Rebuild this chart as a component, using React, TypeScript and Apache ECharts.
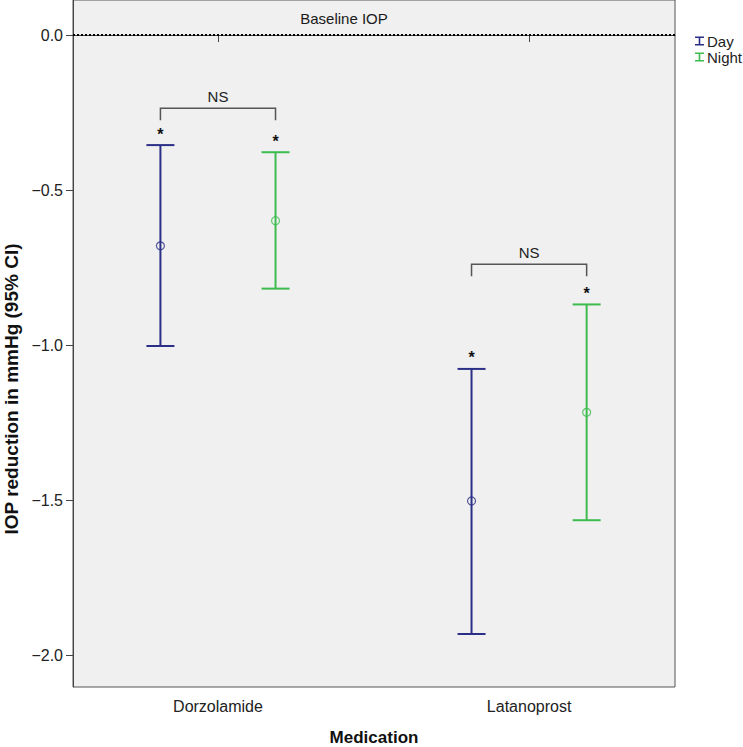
import React, { useEffect, useRef } from "react";
import * as echarts from "echarts";

const categories = ["Dorzolamide", "Latanoprost"];
const seriesNames = ["Day", "Night"];
const dayMean = [-0.68, -1.503];
const dayLower = [-1.003, -1.932];
const dayUpper = [-0.355, -1.077];
const nightMean = [-0.599, -1.217];
const nightLower = [-0.818, -1.565];
const nightUpper = [-0.378, -0.869];
const bracketLevel = [-0.236, -0.739];
const bracketText = ["NS", "NS"];
const starText = ["*", "*"];
const yTicks = [0, -0.5, -1, -1.5, -2];
const baselineValue = 0;
const baselineLabel = "Baseline IOP";
const baselineLabelX = 1.405;
const xTitle = "Medication";
const yTitle = "IOP reduction in mmHg (95% CI)";

const DAY_COLOR = "#2b2f86";
const NIGHT_COLOR = "#3dbb4f";
const FONT = "Liberation Sans, Arial, sans-serif";
const OFFSET = 0.185;

export default function App() {
  const ref = useRef<HTMLDivElement>(null);
  useEffect(() => {
    if (!ref.current) return;
    const chart = echarts.init(ref.current, undefined, { renderer: "svg" });

    const xPos = (i: number, g: number) => i + 1 + (g === 0 ? -OFFSET : OFFSET);

    const errData = (mean: number[], lo: number[], hi: number[], g: number) =>
      categories.map((_, i) => [xPos(i, g), lo[i], hi[i], mean[i]]);

    const errSeries = (name: string, color: string, data: number[][]) => ({
      name,
      type: "custom",
      itemStyle: { color },
      data,
      z: 3,
      renderItem: (_p: any, api: any) => {
        const x = api.value(0);
        const lo = api.value(1);
        const hi = api.value(2);
        const top = api.coord([x, hi]);
        const bot = api.coord([x, lo]);
        const hw = 14;
        const st = { stroke: color, lineWidth: 2 };
        return {
          type: "group",
          children: [
            { type: "line", shape: { x1: top[0], y1: top[1], x2: bot[0], y2: bot[1] }, style: st },
            { type: "line", shape: { x1: top[0] - hw, y1: top[1], x2: top[0] + hw, y2: top[1] }, style: st },
            { type: "line", shape: { x1: bot[0] - hw, y1: bot[1], x2: bot[0] + hw, y2: bot[1] }, style: st },
            {
              type: "text",
              x: top[0],
              y: top[1] - 3,
              style: {
                text: starText[_p.dataIndex],
                fill: "#111",
                font: `bold 16px ${FONT}`,
                align: "center",
                verticalAlign: "bottom",
              },
            },
          ],
        };
      },
    });

    const meanSeries = (name: string, color: string, mean: number[], g: number) => ({
      name,
      type: "scatter",
      symbol: "circle",
      symbolSize: 8,
      itemStyle: { color: "transparent", borderColor: color, borderWidth: 1.2 },
      data: categories.map((_, i) => [xPos(i, g), mean[i]]),
      z: 4,
    });

    const bracketData = categories.map((_, i) => [xPos(i, 0), xPos(i, 1), bracketLevel[i]]);

    chart.setOption({
      animation: false,
      backgroundColor: "#ffffff",
      textStyle: { fontFamily: FONT },
      grid: {
        left: 73,
        right: 68,
        top: 0,
        bottom: 60,
        outerBoundsMode: "none",
        containLabel: false,
        show: true,
        backgroundColor: "#f0f0f0",
        borderColor: "#555",
        borderWidth: 1,
      },
      legend: {
        left: 690,
        top: 28,
        orient: "vertical",
        itemWidth: 9,
        itemHeight: 10,
        itemGap: 0,
        icon: "path://M0,0H10V1.8H5.9V8.2H10V10H0V8.2H4.1V1.8H0Z",
        textStyle: {
          fontSize: 15,
          lineHeight: 16,
          color: "#222",
          fontFamily: FONT,
          padding: [0, 0, 0, -2],
        },
        data: seriesNames.map((n, i) => ({
          name: n,
          itemStyle: { color: i === 0 ? DAY_COLOR : NIGHT_COLOR },
        })),
      },
      graphic: [
        {
          type: "text",
          x: 11,
          y: 389,
          rotation: Math.PI / 2,
          style: {
            text: yTitle,
            font: `bold 19px ${FONT}`,
            fill: "#111",
            align: "center",
            verticalAlign: "middle",
          },
        },
      ],
      xAxis: {
        type: "value",
        min: 0.534,
        max: 2.469,
        name: xTitle,
        nameLocation: "middle",
        nameGap: 42,
        nameTextStyle: { fontSize: 17, fontWeight: "bold", color: "#111", fontFamily: FONT },
        axisLine: { show: true, lineStyle: { color: "#444", width: 1 } },
        axisTick: { show: true, length: 7, customValues: [1, 2], lineStyle: { color: "#444" } },
        axisLabel: {
          customValues: [1, 2],
          margin: 11,
          fontSize: 16,
          color: "#222",
          fontFamily: FONT,
          formatter: (v: number) => categories[Math.round(v) - 1] ?? "",
        },
        splitLine: { show: false },
      },
      yAxis: {
        type: "value",
        min: -2.103,
        max: 0.113,
        axisLine: { show: true, lineStyle: { color: "#444", width: 1 } },
        axisTick: { show: true, length: 7, customValues: yTicks, lineStyle: { color: "#444" } },
        axisLabel: {
          customValues: yTicks,
          margin: 10,
          fontSize: 16,
          color: "#222",
          fontFamily: FONT,
          formatter: (v: number) => (v < 0 ? "\u2212" + Math.abs(v).toFixed(1) : v.toFixed(1)),
        },
        splitLine: { show: false },
      },
      series: [
        {
          name: "baseline",
          type: "line",
          data: [],
          silent: true,
          markLine: {
            silent: true,
            symbol: "none",
            lineStyle: { color: "#000", type: [2, 2], width: 2 },
            label: { show: false },
            data: [{ yAxis: baselineValue }],
          },
        },
        {
          name: "baselineLabel",
          type: "custom",
          silent: true,
          data: [[baselineLabelX, baselineValue]],
          z: 5,
          renderItem: (_p: any, api: any) => {
            const pt = api.coord([api.value(0), api.value(1)]);
            return {
              type: "text",
              x: pt[0],
              y: pt[1] - 9,
              style: {
                text: baselineLabel,
                fill: "#1a1a1a",
                font: `15px ${FONT}`,
                align: "center",
                verticalAlign: "bottom",
              },
            };
          },
        },
        {
          name: "brackets",
          type: "custom",
          data: bracketData,
          silent: true,
          renderItem: (p: any, api: any) => {
            const x1 = api.value(0);
            const x2 = api.value(1);
            const y = api.value(2);
            const a = api.coord([x1, y]);
            const b = api.coord([x2, y]);
            const drop = 12;
            return {
              type: "group",
              children: [
                {
                  type: "polyline",
                  shape: {
                    points: [
                      [a[0], a[1] + drop],
                      [a[0], a[1]],
                      [b[0], b[1]],
                      [b[0], b[1] + drop],
                    ],
                  },
                  style: { stroke: "#555", lineWidth: 1.5, fill: null },
                },
                {
                  type: "text",
                  x: (a[0] + b[0]) / 2,
                  y: a[1] - 4,
                  style: {
                    text: bracketText[p.dataIndex],
                    fill: "#222",
                    font: `15px ${FONT}`,
                    align: "center",
                    verticalAlign: "bottom",
                  },
                },
              ],
            };
          },
        },
        errSeries("Day", DAY_COLOR, errData(dayMean, dayLower, dayUpper, 0)),
        errSeries("Night", NIGHT_COLOR, errData(nightMean, nightLower, nightUpper, 1)),
        meanSeries("Day", DAY_COLOR, dayMean, 0),
        meanSeries("Night", NIGHT_COLOR, nightMean, 1),
      ],
    });
    return () => chart.dispose();
  }, []);

  return (
    <div
      ref={ref}
      style={{ position: "fixed", left: 0, top: 0, width: 743, height: 747 }}
    />
  );
}
